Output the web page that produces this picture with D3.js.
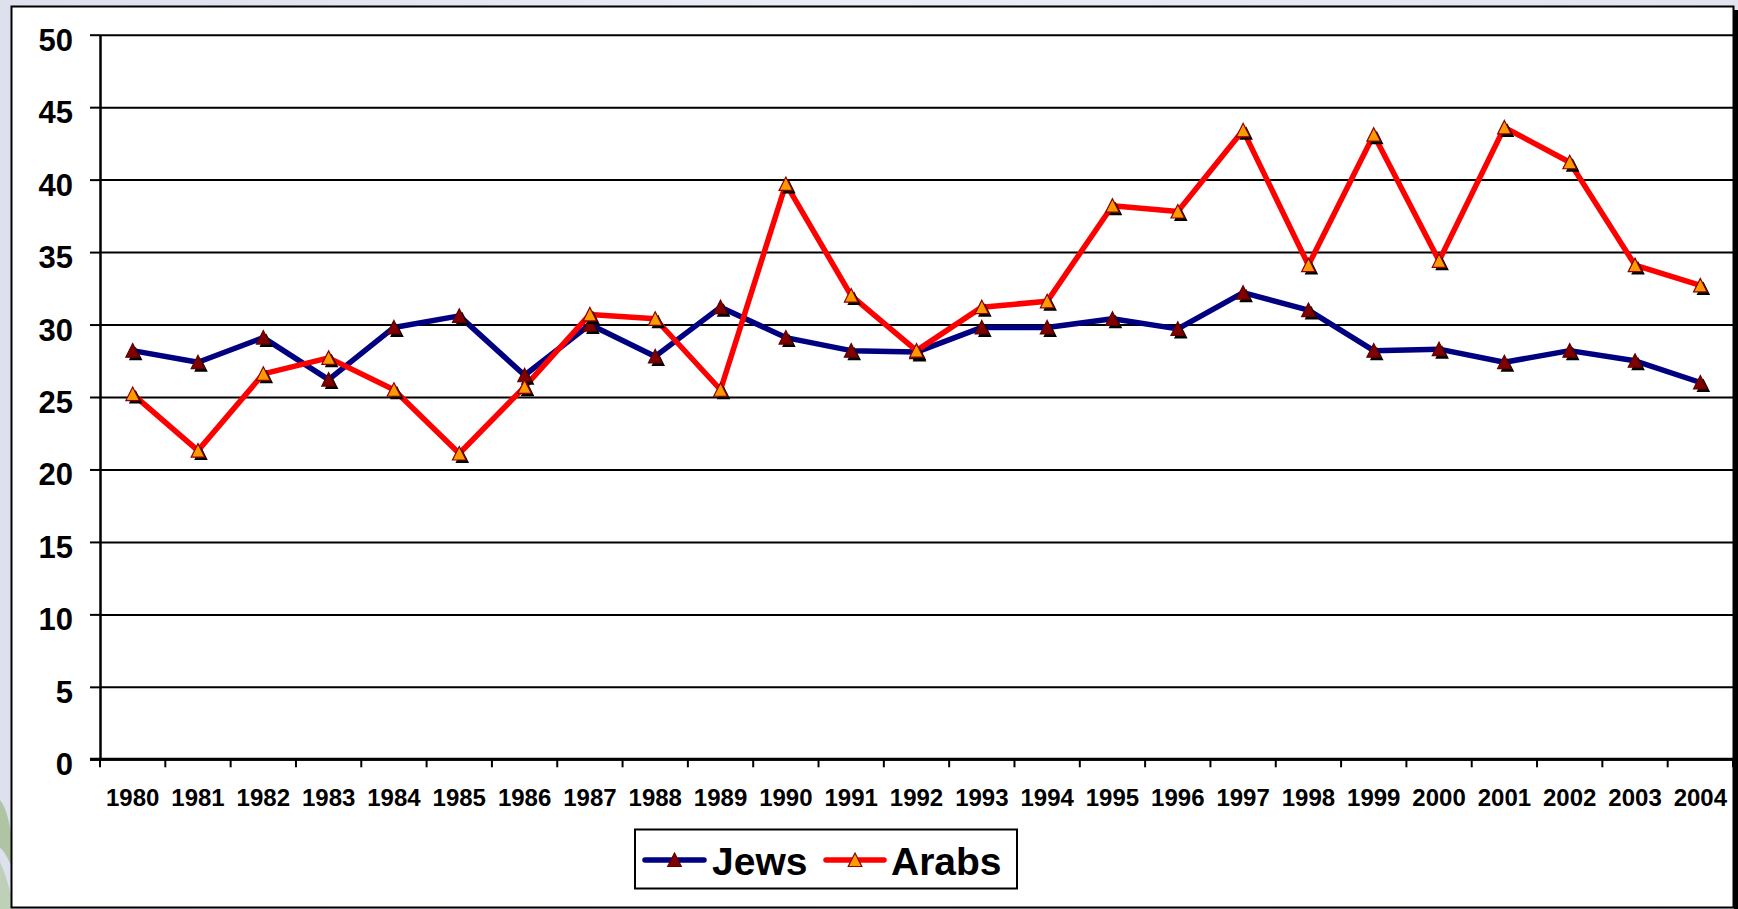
<!DOCTYPE html>
<html>
<head>
<meta charset="utf-8">
<script src="https://cdn.jsdelivr.net/npm/d3@7"></script>
<style>
  html, body { margin: 0; padding: 0; background: #e4e7f1; }
  svg { display: block; }
  text { font-family: "Liberation Sans", Arial, sans-serif; font-weight: bold; fill: #000; }
</style>
</head>
<body>
<svg id="chart" width="1738" height="909"></svg>
<script>
const years = ["1980","1981","1982","1983","1984","1985","1986","1987","1988","1989","1990","1991","1992","1993","1994","1995","1996","1997","1998","1999","2000","2001","2002","2003","2004"];
const jews  = [28.2, 27.4, 29.1, 26.2, 29.8, 30.6, 26.5, 30.0, 27.8, 31.2, 29.1, 28.2, 28.1, 29.8, 29.8, 30.4, 29.7, 32.2, 31.0, 28.2, 28.3, 27.4, 28.2, 27.5, 26.0];
const arabs = [25.2, 21.3, 26.6, 27.7, 25.5, 21.1, 25.7, 30.7, 30.4, 25.5, 39.7, 32.0, 28.2, 31.2, 31.6, 38.2, 37.8, 43.4, 34.1, 43.1, 34.4, 43.6, 41.2, 34.1, 32.7];
const yTicks = [0, 5, 10, 15, 20, 25, 30, 35, 40, 45, 50];
const seriesNames = ["Jews", "Arabs"];

(function () {
const svg = d3.select("#chart");

// page background (slide)
const defs = svg.append("defs");
const bg = defs.append("linearGradient").attr("id","bgGrad").attr("x1","0").attr("y1","0").attr("x2","1").attr("y2","0");
bg.append("stop").attr("offset","0").attr("stop-color","#dde1ee");
bg.append("stop").attr("offset","0.5").attr("stop-color","#eceef5");
bg.append("stop").attr("offset","1").attr("stop-color","#e2e5f0");
svg.append("rect").attr("x",0).attr("y",0).attr("width",1738).attr("height",909).attr("fill","url(#bgGrad)");
// leaf hints at bottom-left
svg.append("path").attr("d","M0,800 Q8,810 11,835 L11,865 Q4,850 0,848 Z").attr("fill","#8fb070").attr("opacity",0.6);
svg.append("path").attr("d","M0,862 Q6,875 11,895 L11,909 L0,909 Z").attr("fill","#9fbf80").attr("opacity",0.5);

// frame with shadow
svg.append("rect").attr("x",1734).attr("y",10).attr("width",5).attr("height",899).attr("fill","#000");
svg.append("rect").attr("x",11.5).attr("y",6.5).attr("width",1722).attr("height",901)
  .attr("fill","#fff").attr("stroke","#000").attr("stroke-width",2);

const pLeft = 100, pRight = 1733, pTop = 34.7, pBottom = 759.3;

const x = d3.scaleBand().domain(years).range([pLeft, pRight]).padding(0);
const y = d3.scaleLinear().domain([0, 50]).range([pBottom, pTop]);

// gridlines
const grid = svg.append("g").attr("transform", `translate(${pLeft},0)`)
  .call(d3.axisLeft(y).tickValues(yTicks).tickSize(-(pRight - pLeft)).tickFormat(""));
grid.select(".domain").remove();
grid.selectAll(".tick line").attr("stroke","#000").attr("stroke-width",2);

// y axis with labels
const yAxis = svg.append("g").attr("transform", `translate(${pLeft},0)`)
  .call(d3.axisLeft(y).tickValues(yTicks).tickSize(10).tickSizeOuter(0).tickPadding(0));
yAxis.select(".domain").attr("stroke","#000").attr("stroke-width",2.5);
yAxis.selectAll(".tick line").attr("stroke","#000").attr("stroke-width",2);
yAxis.selectAll(".tick text")
  .attr("x", -27).attr("dy", null).attr("y", 15.5)
  .attr("font-size", 31).attr("font-family", "Liberation Sans, Arial, sans-serif").attr("font-weight","bold")
  .attr("text-anchor","end").attr("fill","#000");

// x axis line
svg.append("line").attr("x1", pLeft - 10).attr("x2", pRight).attr("y1", y(0)).attr("y2", y(0))
  .attr("stroke","#000").attr("stroke-width",3);

// x tick marks at category boundaries
const boundaries = years.map(d => x(d)).concat([x(years[years.length-1]) + x.bandwidth()]);
svg.append("g").selectAll("line").data(boundaries).join("line")
  .attr("x1", d => d).attr("x2", d => d).attr("y1", y(0)).attr("y2", y(0) + 8)
  .attr("stroke","#000").attr("stroke-width",2);

// x labels via axis
const xAxis = svg.append("g").attr("transform", `translate(0,${y(0)})`)
  .call(d3.axisBottom(x).tickSize(0).tickPadding(0));
xAxis.select(".domain").remove();
xAxis.selectAll(".tick text").attr("dy", null).attr("y", 47)
  .attr("font-size", 24).attr("font-family", "Liberation Sans, Arial, sans-serif").attr("font-weight","bold").attr("fill","#000");

// series
const series = [
  { name: seriesNames[0], values: jews, line: "#000080", fill: "#800000", stroke: "#600000" },
  { name: seriesNames[1], values: arabs, line: "#ff0000", fill: "#ff9900", stroke: "#8b0000" }
];
const cx = d => x(d) + x.bandwidth() / 2;
const lineGen = d3.line().x((d, i) => cx(years[i])).y(d => y(d));
const tri = "M0,-7 L6.8,6.5 L-6.8,6.5 Z";

series.forEach(s => {
  svg.append("path").datum(s.values).attr("d", lineGen)
    .attr("fill","none").attr("stroke", s.line).attr("stroke-width", 5.5).attr("stroke-linejoin","round");
});
series.forEach(s => {
  const g = svg.append("g");
  g.selectAll("path.shadow").data(s.values).join("path").attr("class","shadow")
    .attr("d", tri).attr("transform", (d, i) => `translate(${cx(years[i]) + 3},${y(d) + 3})`)
    .attr("fill","#000");
  g.selectAll("path.mark").data(s.values).join("path").attr("class","mark")
    .attr("d", tri).attr("transform", (d, i) => `translate(${cx(years[i])},${y(d)})`)
    .attr("fill", s.fill).attr("stroke", s.stroke).attr("stroke-width", 1.2);
});

// legend
const lg = svg.append("g");
lg.append("rect").attr("x", 635).attr("y", 829.5).attr("width", 382).attr("height", 59)
  .attr("fill","#fff").attr("stroke","#000").attr("stroke-width",2);
const legendItems = [
  { s: series[0], x1: 645, x2: 704, tx: 712 },
  { s: series[1], x1: 826, x2: 884, tx: 891 }
];
legendItems.forEach(it => {
  lg.append("line").attr("x1", it.x1).attr("x2", it.x2).attr("y1", 860).attr("y2", 860)
    .attr("stroke", it.s.line).attr("stroke-width", 5.5).attr("stroke-linecap","round");
  lg.append("path").attr("d", tri).attr("transform", `translate(${(it.x1 + it.x2) / 2},${860})`)
    .attr("fill", it.s.fill).attr("stroke", it.s.stroke).attr("stroke-width", 1.2);
  lg.append("text").attr("x", it.tx).attr("y", 875).attr("font-size", 39).text(it.s.name);
});
})();
</script>
</body>
</html>
